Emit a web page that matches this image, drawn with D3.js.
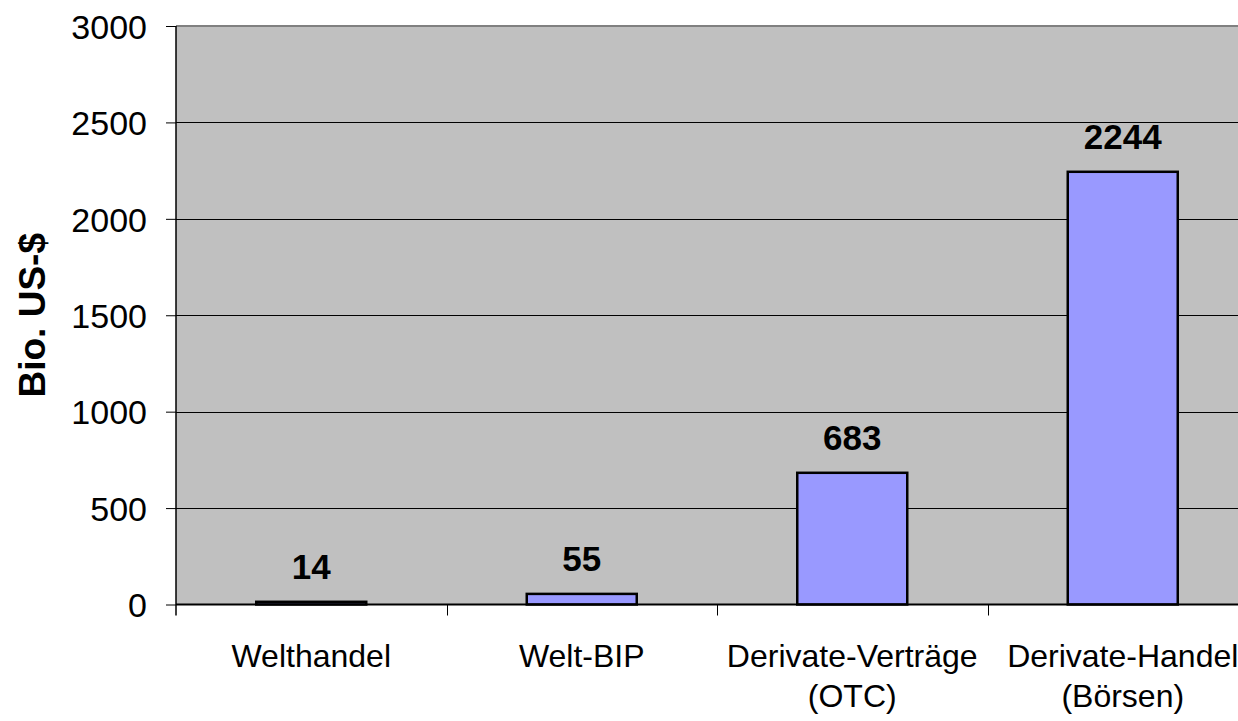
<!DOCTYPE html>
<html>
<head>
    <meta charset="utf-8" />
    <title>Bio. US-$</title>
    <script src="https://d3js.org/d3.v7.min.js"></script>
    <style>
        body { margin: 0; background: #fff; }
        svg { display: block; font-family: "Liberation Sans", Arial, sans-serif; }
        .tick-label { font-size: 32px; fill: #000; }
        .y-label { font-size: 34px; fill: #000; }
        .value { font-size: 35px; font-weight: bold; text-anchor: middle; fill: #000; }
    </style>
</head>
<body>
<svg id="chart" width="1238" height="721"></svg>
<script>
    // data
    var categories = [["Welthandel"], ["Welt-BIP"], ["Derivate-Verträge", "(OTC)"], ["Derivate-Handel", "(Börsen)"]];
    var values = [14, 55, 683, 2244];
    var yTicks = [0, 500, 1000, 1500, 2000, 2500, 3000];
    var yTitle = "Bio. US-$";

    var svg = d3.select("#chart");
    var plotL = 176, plotT = 26, plotB = 604.5, plotR = 1258;

    var x = d3.scaleBand()
        .domain(d3.range(values.length))
        .range([plotL, plotR])
        .paddingInner(0).paddingOuter(0);
    var y = d3.scaleLinear().domain([0, 3000]).range([plotB, plotT]);

    // plot background
    svg.append("rect")
        .attr("x", plotL).attr("y", plotT)
        .attr("width", plotR - plotL).attr("height", plotB - plotT)
        .attr("fill", "#c0c0c0");

    // gridlines
    svg.append("g").selectAll("line")
        .data(yTicks.slice(1, -1))
        .join("line")
        .attr("x1", plotL).attr("x2", plotR)
        .attr("y1", d => Math.round(y(d)) + 0.5).attr("y2", d => Math.round(y(d)) + 0.5)
        .attr("stroke", "#000").attr("stroke-width", 1);

    // top border
    svg.append("line")
        .attr("x1", plotL).attr("x2", plotR)
        .attr("y1", plotT).attr("y2", plotT)
        .attr("stroke", "#808080").attr("stroke-width", 2);

    // bars
    var barW = 110;
    svg.append("g").selectAll("rect")
        .data(values)
        .join("rect")
        .attr("x", (d, i) => x(i) + x.bandwidth() / 2 - barW / 2)
        .attr("y", d => y(d))
        .attr("width", barW)
        .attr("height", d => plotB - y(d))
        .attr("fill", "#9999ff")
        .attr("stroke", "#000")
        .attr("stroke-width", 2.5);

    // value labels
    svg.append("g").selectAll("text")
        .data(values)
        .join("text")
        .attr("class", "value")
        .attr("x", (d, i) => x(i) + x.bandwidth() / 2)
        .attr("y", d => y(d) - 23)
        .text(d => d);

    // y axis
    var yAxis = d3.axisLeft(y).tickValues(yTicks).tickSize(10).tickPadding(19).tickFormat(d3.format("d"));
    var gy = svg.append("g").attr("transform", "translate(" + plotL + ",0)").call(yAxis);
    gy.select(".domain").attr("stroke", "#000").attr("stroke-width", 1.5).attr("d", "M0," + plotT + "V" + (plotB + 11));
    gy.selectAll(".tick line").attr("stroke", "#000");
    gy.selectAll(".tick text").attr("class", "y-label").attr("dy", "0.36em");
    gy.attr("font-size", null).attr("font-family", null);

    // x axis line
    svg.append("line")
        .attr("x1", plotL).attr("x2", plotR)
        .attr("y1", plotB).attr("y2", plotB)
        .attr("stroke", "#000").attr("stroke-width", 2);

    // x tick marks between categories
    svg.append("g").selectAll("line")
        .data(d3.range(1, values.length))
        .join("line")
        .attr("x1", i => Math.round(x(i)) + 0.5).attr("x2", i => Math.round(x(i)) + 0.5)
        .attr("y1", plotB).attr("y2", plotB + 11)
        .attr("stroke", "#000").attr("stroke-width", 1);

    // x labels
    var xl = svg.append("g").selectAll("text")
        .data(categories)
        .join("text")
        .attr("class", "tick-label")
        .attr("text-anchor", "middle")
        .attr("x", (d, i) => x(i) + x.bandwidth() / 2)
        .attr("y", 667);
    xl.selectAll("tspan")
        .data(d => d)
        .join("tspan")
        .attr("x", function () { return d3.select(this.parentNode).attr("x"); })
        .attr("dy", (d, i) => i === 0 ? 0 : 40)
        .text(d => d);

    // y title
    svg.append("text")
        .attr("transform", "translate(45," + ((plotT + plotB) / 2) + ") rotate(-90)")
        .attr("text-anchor", "middle")
        .attr("font-size", 37)
        .attr("font-weight", "bold")
        .text(yTitle);
</script>
</body>
</html>
